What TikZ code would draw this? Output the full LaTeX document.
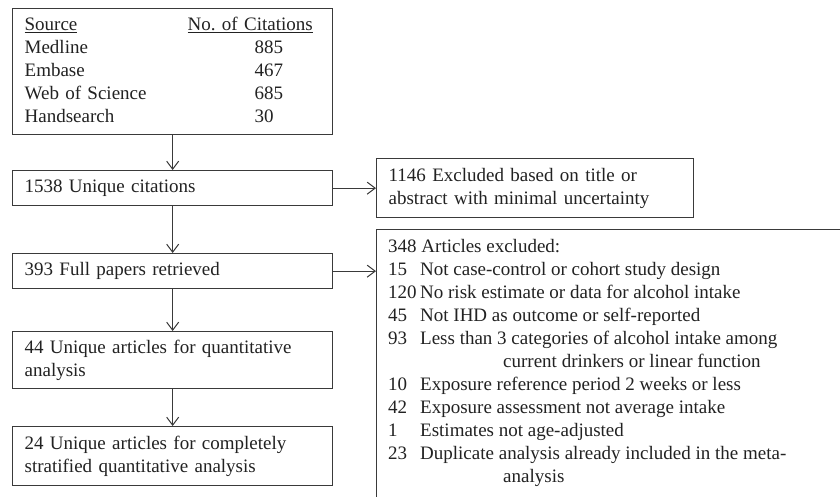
\documentclass[tikz,border=0pt]{standalone}
\usepackage{fontspec}
\setmainfont{Liberation Serif}
\usetikzlibrary{arrows.meta}
\definecolor{linec}{HTML}{3A3A3A}
\definecolor{textc}{HTML}{222222}
\begin{document}
\begin{tikzpicture}[x=1pt,y=-1pt,
  every node/.style={font=\fontsize{19}{23}\selectfont, text=textc},
  box/.style={draw=linec, line width=1.3pt, inner ysep=0pt, inner xsep=12pt,
    text width=296pt, align=left, anchor=north west},
  exbox/.style={draw=linec, line width=1.3pt, inner ysep=0pt, inner xsep=12pt,
    align=left, anchor=north west},
  plain/.style={inner sep=0pt, anchor=north west, align=left},
  arr/.style={draw=linec, line width=1pt,
    -{Straight Barb[length=8pt,width=12pt,line width=1pt]}}]
\useasboundingbox (0,0) rectangle (840,496);
\clip (0,0) rectangle (840,496);
\fill[white] (0,0) rectangle (840,496);

\node[box, minimum height=126pt] (src) at (12,8) {%
  \begin{tabular}{@{}p{163pt}@{}l@{}}
  \underline{Source} & \underline{No.\ of Citations}\\
  Medline & \hspace{67pt}885\\
  Embase & \hspace{67pt}467\\
  Web of Science & \hspace{67pt}685\\
  Handsearch & \hspace{67pt}30
  \end{tabular}};

\node[box, minimum height=35pt] (uniq) at (12,170) {1538 Unique citations};
\node[box, minimum height=35pt] (full) at (12,253) {393 Full papers retrieved};
\node[box, minimum height=57pt] (quant) at (12,331) {44 Unique articles for quantitative\\analysis};
\node[box, minimum height=59pt] (strat) at (12,426) {24 Unique articles for completely\\stratified quantitative analysis};

\node[exbox, text width=293pt, minimum height=59pt] (exa) at (376,158)
  {1146 Excluded based on title or\\abstract with minimal uncertainty};

\node[draw=linec, line width=1.3pt, inner sep=0pt, anchor=north west,
  minimum width=480pt, minimum height=290pt] (exb) at (376,229) {};
\node[plain] (exbtext) at (388,236.5) {%
  \begin{tabular}{@{}p{32pt}@{}l@{}}
  \multicolumn{2}{@{}l@{}}{348 Articles excluded:}\\
  15 & Not case-control or cohort study design\\
  120 & No risk estimate or data for alcohol intake\\
  45 & Not IHD as outcome or self-reported\\
  93 & Less than 3 categories of alcohol intake among\\
     & \hspace{83pt}current drinkers or linear function\\
  10 & Exposure reference period 2 weeks or less\\
  42 & Exposure assessment not average intake\\
  1 & Estimates not age-adjusted\\
  23 & Duplicate analysis already included in the meta-\\
     & \hspace{83pt}analysis
  \end{tabular}};

\draw[arr] (src.south) -- (uniq.north);
\draw[arr] (uniq.south) -- (full.north);
\draw[arr] (full.south) -- (quant.north);
\draw[arr] (quant.south) -- (strat.north);
\draw[arr] (uniq.east) -- (exa.west);
\draw[arr] (full.east) -- (full.east -| exb.west);
\end{tikzpicture}
\end{document}
